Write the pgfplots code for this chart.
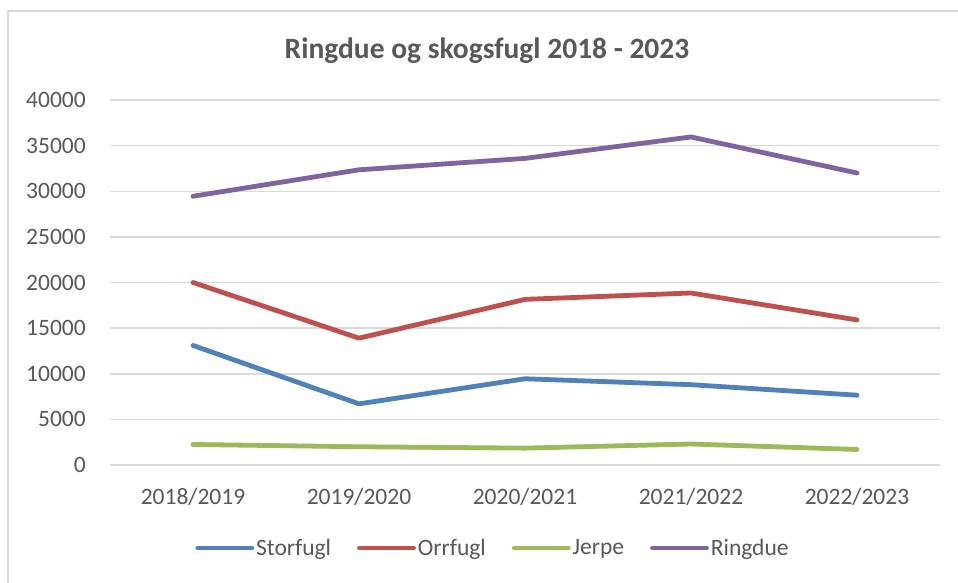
\documentclass[border=0pt]{standalone}
\usepackage{fontspec}
\setmainfont{Carlito}
\usepackage{pgfplots}
\pgfplotsset{compat=1.18}
\definecolor{sblue}{HTML}{4F81BD}
\definecolor{sred}{HTML}{C0504D}
\definecolor{sgreen}{HTML}{9BBB59}
\definecolor{spurple}{HTML}{8064A2}
\definecolor{txt}{HTML}{595959}
\definecolor{gridc}{HTML}{D9D9D9}
\begin{document}
\begin{tikzpicture}
\path[use as bounding box] (0bp,0bp) rectangle (958bp,583bp);
\fill[white] (0bp,0bp) rectangle (958bp,583bp);
\draw[gridc, line width=2bp] (8bp,0bp) -- (8bp,572bp) -- (958bp,572bp);
\node[anchor=base, text=txt, inner sep=0pt, font=\fontsize{29.5bp}{34bp}\selectfont\bfseries] at (487bp,524bp) {Ringdue og skogsfugl 2018 - 2023};
\begin{axis}[at={(110bp,118bp)}, anchor=south west, scale only axis, width=830bp, height=365bp,
 xmin=-0.5, xmax=4.5, ymin=0, ymax=40000,
 xtick={0,...,4}, xticklabels={2018/2019,2019/2020,2020/2021,2021/2022,2022/2023},
 ytick={0,5000,...,40000}, scaled y ticks=false,
 /pgf/number format/1000 sep={}, /pgf/number format/assume math mode=true,
 ymajorgrids, major grid style={gridc, line width=1.5bp},
 axis line style={draw=none}, major tick length=0pt,
 tick label style={text=txt, font=\fontsize{23.5bp}{28bp}\selectfont},
 yticklabel style={anchor=east, inner sep=0pt, xshift=-24bp},
 xticklabel style={anchor=base, inner sep=0pt, yshift=-39bp},
 legend columns=4,
 legend cell align=left,
 legend style={at={(0.4614,-0.2274)}, anchor=center, draw=none, fill=none, inner sep=0pt,
   font=\fontsize{23.5bp}{28bp}\selectfont, text=txt,
   nodes={inner xsep=2bp, inner ysep=0pt},
   /tikz/every odd column/.append style={column sep=0bp},
   /tikz/every even column/.append style={column sep=24bp}},
 legend image code/.code={\draw[#1] (0bp,0bp) -- (54bp,0bp);},
 every axis plot/.append style={line width=4.8bp, line cap=round, line join=round},
 clip=false,
]
\addplot[sblue] coordinates {(0,13100) (1,6700) (2,9450) (3,8800) (4,7650)};
\addlegendentry{Storfugl}
\addplot[sred] coordinates {(0,20000) (1,13900) (2,18150) (3,18850) (4,15900)};
\addlegendentry{Orrfugl}
\addplot[sgreen] coordinates {(0,2250) (1,2000) (2,1850) (3,2300) (4,1700)};
\addlegendentry{Jerpe}
\addplot[spurple] coordinates {(0,29450) (1,32350) (2,33600) (3,35950) (4,32000)};
\addlegendentry{Ringdue}
\end{axis}
\end{tikzpicture}
\end{document}
